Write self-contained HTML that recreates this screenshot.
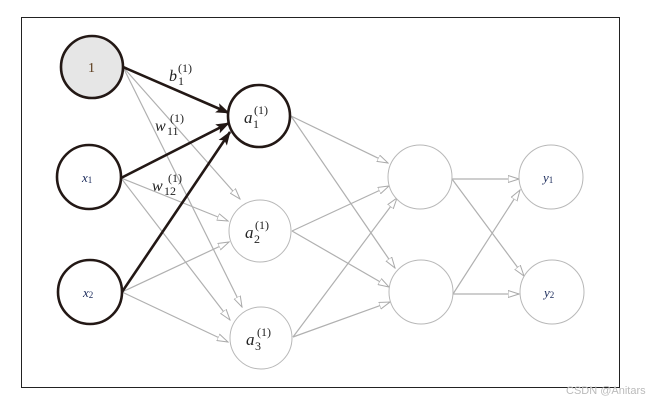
<!DOCTYPE html>
<html><head><style>html,body{margin:0;padding:0;background:#fff;}svg{display:block}</style></head>
<body>
<svg width="658" height="403" viewBox="0 0 658 403" xmlns="http://www.w3.org/2000/svg" font-family="'Liberation Serif',serif">
<defs>
<marker id="g" markerWidth="12" markerHeight="8" refX="11" refY="4" orient="auto" markerUnits="userSpaceOnUse"><path d="M0,0.5 L11,4 L0,7.5 Z" fill="#fff" stroke="#aaa" stroke-width="1"/></marker>
<marker id="b" markerWidth="14" markerHeight="10" refX="13" refY="5" orient="auto" markerUnits="userSpaceOnUse"><path d="M0,0 L14,5 L0,10 L3,5 Z" fill="#231815"/></marker>
</defs>
<rect x="21.5" y="17.5" width="598" height="370" fill="none" stroke="#222" stroke-width="1"/>
<g stroke="#b0b0b0" stroke-width="1.2" fill="none" marker-end="url(#g)">
<line x1="123" y1="67" x2="240" y2="199"/>
<line x1="123" y1="67" x2="242" y2="307"/>
<line x1="121" y1="178" x2="228" y2="221"/>
<line x1="121" y1="178" x2="230" y2="320"/>
<line x1="122" y1="292" x2="229" y2="242"/>
<line x1="122" y1="292" x2="228" y2="342"/>
<line x1="291" y1="116" x2="388" y2="163"/>
<line x1="291" y1="116" x2="395" y2="268"/>
<line x1="292" y1="231" x2="389" y2="186"/>
<line x1="292" y1="231" x2="389" y2="287"/>
<line x1="293" y1="337" x2="397" y2="198"/>
<line x1="293" y1="337" x2="390" y2="302"/>
<line x1="452" y1="179" x2="519" y2="179"/>
<line x1="452" y1="179" x2="524" y2="276"/>
<line x1="453" y1="294" x2="520" y2="190"/>
<line x1="453" y1="294" x2="519" y2="294"/>
</g>
<g stroke="#231815" stroke-width="2.6" fill="none" marker-end="url(#b)">
<line x1="123" y1="67" x2="229" y2="113"/>
<line x1="121" y1="178" x2="229" y2="123"/>
<line x1="122" y1="292" x2="230" y2="132"/>
</g>
<g stroke="#231815" stroke-width="2.6">
<circle cx="92" cy="67" r="31" fill="#e6e6e6"/>
<circle cx="89" cy="177" r="32" fill="#fff"/>
<circle cx="90" cy="292" r="32" fill="#fff"/>
<circle cx="259" cy="116" r="31" fill="#fff"/>
</g>
<g stroke="#b8b8b8" stroke-width="1" fill="#fff">
<circle cx="260" cy="231" r="31"/>
<circle cx="261" cy="338" r="31"/>
<circle cx="420" cy="177" r="32"/>
<circle cx="421" cy="292" r="32"/>
<circle cx="551" cy="177" r="32"/>
<circle cx="552" cy="292" r="32"/>
</g>
<g fill="#222" font-style="italic">
<text x="88" y="72" font-style="normal" font-size="14" fill="#5a3a1a">1</text>
<text x="82" y="182" font-size="13" fill="#1a2a5a">x<tspan font-size="9" font-style="normal" dy="1">1</tspan></text>
<text x="83" y="297" font-size="13" fill="#1a2a5a">x<tspan font-size="9" font-style="normal" dy="1">2</tspan></text>
<text x="543" y="182" font-size="13" fill="#1a2a5a">y<tspan font-size="9" font-style="normal" dy="1">1</tspan></text>
<text x="544" y="297" font-size="13" fill="#1a2a5a">y<tspan font-size="9" font-style="normal" dy="1">2</tspan></text>
<text x="244" y="123" font-size="17">a</text><text x="253" y="128" font-size="12" font-style="normal">1</text><text x="254" y="114" font-size="12" font-style="normal">(1)</text>
<text x="245" y="238" font-size="17">a</text><text x="254" y="243" font-size="12" font-style="normal">2</text><text x="255" y="229" font-size="12" font-style="normal">(1)</text>
<text x="246" y="345" font-size="17">a</text><text x="255" y="350" font-size="12" font-style="normal">3</text><text x="257" y="336" font-size="12" font-style="normal">(1)</text>
<text x="169" y="81" font-size="16">b</text><text x="178" y="85" font-size="12" font-style="normal">1</text><text x="178" y="72" font-size="12" font-style="normal">(1)</text>
<text x="155" y="131" font-size="16">w</text><text x="167" y="135" font-size="12" font-style="normal">11</text><text x="170" y="122" font-size="12" font-style="normal">(1)</text>
<text x="152" y="191" font-size="16">w</text><text x="164" y="195" font-size="12" font-style="normal">12</text><text x="168" y="182" font-size="12" font-style="normal">(1)</text>
</g>
<text x="566" y="394" font-family="'Liberation Sans',sans-serif" font-size="11" fill="#bbb">CSDN @Anitars</text>
</svg>
</body></html>
